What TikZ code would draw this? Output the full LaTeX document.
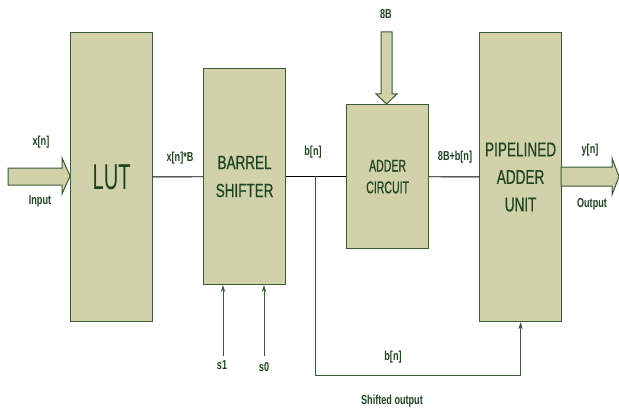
\documentclass[tikz,border=0pt]{standalone}
\usepackage{fontspec}
\setmainfont{Liberation Sans}[FakeStretch=0.70]
\newfontfamily\lutfont{Liberation Sans}[FakeStretch=0.56]
\newfontfamily\barfont{Liberation Sans}[FakeStretch=0.71,FakeBold=0.6]
\newfontfamily\addfont{Liberation Sans}[FakeStretch=0.62,FakeBold=0.6]
\newfontfamily\pipefont{Liberation Sans}[FakeStretch=0.68,FakeBold=0.6]
\usetikzlibrary{arrows.meta}
\definecolor{boxfill}{HTML}{D2D2AA}
\definecolor{boxline}{HTML}{3A5A3A}
\definecolor{txt}{HTML}{1F4422}
\tikzset{
  blk/.style={draw=boxline, line width=1.2pt, fill=boxfill, anchor=north west, inner sep=0pt, align=center, text=txt},
  lbl/.style={text=txt, font=\fontsize{13}{15}\selectfont\bfseries, inner sep=0pt},
  wire/.style={draw=black, line width=0.9pt},
  gwire/.style={draw=boxline, line width=0.9pt},
  tip/.style={-{Stealth[length=7pt,width=4.5pt]}},
  barrow/.style={draw=boxline, line width=1pt, fill=boxfill}
}
\begin{document}
\begin{tikzpicture}[x=1pt,y=-1pt]
\useasboundingbox[fill=white] (0,0) rectangle (619,412);
% blocks
\node[blk, minimum width=82pt, minimum height=289pt, font=\lutfont\fontsize{36}{38}\selectfont] (lut) at (70,32) {LUT};
\node[blk, minimum width=82pt, minimum height=216pt, font=\barfont\fontsize{19}{28}\selectfont] (barrel) at (203,68) {BARREL\\SHIFTER};
\node[blk, minimum width=82pt, minimum height=144pt, font=\addfont\fontsize{17}{21.7}\selectfont] (adder) at (346,104) {ADDER\\CIRCUIT};
\node[blk, minimum width=82pt, minimum height=289pt, font=\pipefont\fontsize{20}{27.5}\selectfont] (pipe) at (479,32) {PIPELINED\\ADDER\\UNIT};
% block arrows
\draw[barrow] (8,168) -- (62,168) -- (62,158) -- (70,176) -- (62,194) -- (62,185) -- (8,185) -- cycle;
\draw[barrow] (561,167) -- (612,167) -- (612,158) -- (619,176.5) -- (612,195) -- (612,186) -- (561,186) -- cycle;
\draw[barrow] (381,32) -- (392,32) -- (392,94) -- (397,94) -- (386.5,104) -- (376,94) -- (381,94) -- cycle;
% wires
\draw[wire] (lut) -- (barrel);
\draw[wire] (barrel) -- (adder);
\draw[wire] (adder) -- (pipe);
\coordinate (fb) at (315,176);
\coordinate (fbc) at (315,375);
\draw[gwire, tip] (fb) -- (fbc) -| (pipe.south);
\coordinate (s1c) at (223,356);
\coordinate (s0c) at (264,356);
\draw[gwire, tip] (s1c) -- (barrel.south -| s1c);
\draw[gwire, tip] (s0c) -- (barrel.south -| s0c);
% labels
\node[lbl] (lx) at (41,142) {x[n]};
\node[lbl] (lin) at (40,201) {Input};
\node[lbl] (lxb) at (180,158) {x[n]*B};
\node[lbl] (lb1) at (313,152) {b[n]};
\node[lbl] (l8b) at (386,14) {8B};
\node[lbl] (l8bb) at (455,157) {8B+b[n]};
\node[lbl] (ly) at (590,150) {y[n]};
\node[lbl] (lout) at (592,204) {Output};
\node[lbl] (ls1) at (222,365) {s1};
\node[lbl] (ls0) at (264,367) {s0};
\node[lbl] (lb2) at (393,357) {b[n]};
\node[lbl] (lsh) at (392,401) {Shifted output};
\end{tikzpicture}
\end{document}
